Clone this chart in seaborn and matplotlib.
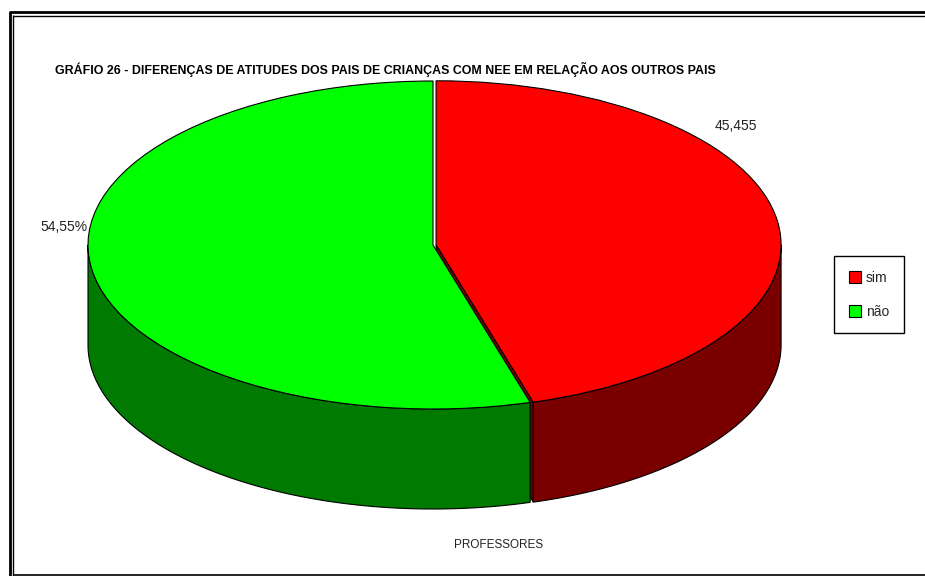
import numpy as np
import matplotlib
matplotlib.use("Agg")
import matplotlib.pyplot as plt
import seaborn as sns
from matplotlib.patches import Polygon, Patch
from matplotlib.lines import Line2D

# ---- data ----
categories = ["sim", "não"]
values = [45.455, 54.545]
value_labels = ["45,455", "54,55%"]
top_colors = ["#FF0000", "#00FF00"]
side_colors = ["#7A0000", "#007A00"]
title = "GRÁFIO 26 - DIFERENÇAS DE ATITUDES DOS PAIS DE CRIANÇAS COM NEE EM RELAÇÃO AOS OUTROS PAIS"
xlabel = "PROFESSORES"

sns.set_theme(style="white")
plt.rcParams["font.family"] = ["Liberation Sans", "DejaVu Sans"]

W, H = 925, 576
fig = plt.figure(figsize=(W / 100, H / 100), dpi=100)
fig.patch.set_facecolor("white")

# pie geometry (pixels)
cx_px, cy_px, rx_px, ry_px, depth_px = 433.0, 245.0, 345.0, 164.0, 100.0
depth = depth_px / ry_px

ax = fig.add_axes([0, 0, 1, 1])
wedges, _ = ax.pie(values, colors=top_colors, startangle=90, counterclock=False,
                   explode=[0.009, 0], radius=1,
                   wedgeprops=dict(edgecolor="black", linewidth=0.8, zorder=10))
ax.set_aspect("auto")
ax.set_xlim((0 - cx_px) / rx_px, (W - cx_px) / rx_px)
ax.set_ylim((cy_px - H) / ry_px, cy_px / ry_px)
ax.axis("off")

def side_poly(c, a, b, color):
    t = np.radians(np.linspace(a, b, 120))
    x = c[0] + np.cos(t)
    y = c[1] + np.sin(t)
    pts = np.concatenate([np.column_stack([x, y]),
                          np.column_stack([x[::-1], y[::-1] - depth])])
    return Polygon(pts, closed=True, facecolor=color, edgecolor="black",
                   linewidth=0.8, zorder=3)

# cut face of first wedge (visible through explode gap)
w0 = wedges[0]
c0 = w0.center
th = np.radians(w0.theta1)
face = Polygon([[c0[0], c0[1]], [c0[0] + np.cos(th), c0[1] + np.sin(th)],
                [c0[0] + np.cos(th), c0[1] + np.sin(th) - depth],
                [c0[0], c0[1] - depth]], closed=True,
               facecolor=side_colors[0], edgecolor="black", linewidth=0.8, zorder=2)
ax.add_patch(face)

# side walls (front half only)
for i in [1, 0]:
    w = wedges[i]
    for k in (-1, 0, 1):
        lo, hi = -180 + 360 * k, 0 + 360 * k
        a, b = max(w.theta1, lo), min(w.theta2, hi)
        if b > a:
            p = side_poly(w.center, a, b, side_colors[i])
            p.set_zorder(3 + (1 - i))
            ax.add_patch(p)

# labels
fig.text(736 / W, 1 - 126 / H, value_labels[0], ha="center", va="center",
         fontsize=10, color="#222222")
fig.text(64 / W, 1 - 227 / H, value_labels[1], ha="center", va="center",
         fontsize=10, color="#222222")

fig.text(55 / W, 1 - 69 / H, title, ha="left", va="center", fontsize=8.9,
         fontweight="bold", color="black")
fig.text(499 / W, 1 - 545 / H, xlabel, ha="center", va="center", fontsize=8.5,
         color="#222222")

handles = [Patch(facecolor=top_colors[i], edgecolor="black", linewidth=0.8,
                 label=categories[i]) for i in range(2)]
leg = fig.legend(handles=handles, loc="upper left",
                 bbox_to_anchor=(834 / W, 1 - 256 / H), frameon=True,
                 fancybox=False, edgecolor="black", framealpha=1,
                 fontsize=10, handlelength=0.9, handleheight=0.9,
                 handletextpad=0.35, labelspacing=1.45, borderpad=1.05,
                 borderaxespad=0)
leg.get_frame().set_linewidth(1.0)

# double border frame
def fl(x0, y0, x1, y1, lw):
    fig.add_artist(Line2D([x0 / W, x1 / W], [1 - y0 / H, 1 - y1 / H],
                          transform=fig.transFigure, color="black",
                          linewidth=lw, solid_capstyle="butt"))

fl(9.6, 12, W, 12, 2.0)
fl(13.3, 15.6, W, 15.6, 1.0)
fl(9.6, 11, 9.6, H, 2.0)
fl(13.3, 15.1, 13.3, H, 1.0)
fl(13, 575.3, W, 575.3, 1.2)

fig.savefig("out.png", dpi=100)
